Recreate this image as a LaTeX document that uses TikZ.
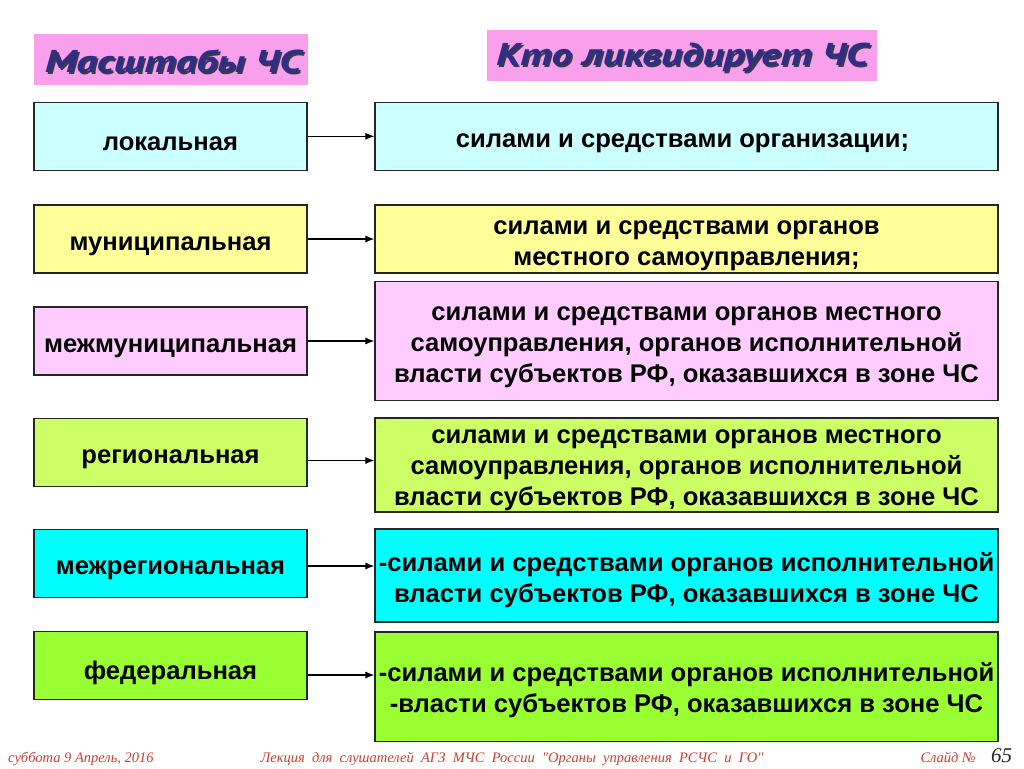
\documentclass[tikz,border=0pt]{standalone}
\usepackage{fontspec}
\setmainfont{Liberation Sans}
\newfontfamily\titlefam[FakeStretch=1.3]{PT Sans}
\newfontfamily\footfam{Liberation Serif}
\usetikzlibrary{arrows.meta}
\definecolor{cA}{HTML}{CCFFFF}
\definecolor{cB}{HTML}{FFFF99}
\definecolor{cC}{HTML}{FFCCFF}
\definecolor{cD}{HTML}{CCFF66}
\definecolor{cE}{HTML}{00FFFF}
\definecolor{cF}{HTML}{99FF33}
\definecolor{tpink}{HTML}{F9A0EC}
\definecolor{navy}{HTML}{2E2E86}
\definecolor{shade}{HTML}{3A3A4A}
\definecolor{footred}{HTML}{C8412E}
\newcommand\boxfnt{\fontsize{25.6}{31}\selectfont\bfseries}
\newcommand\ttlfnt{\fontsize{31.5}{36}\selectfont\titlefam\bfseries\itshape}
\newcommand\footfnt{\fontsize{14.5}{18}\selectfont\footfam\itshape}
\tikzset{
  box/.style={draw=black!85, line width=1.2pt, inner sep=0pt},
  lbox/.style={box, minimum width=273pt, minimum height=68pt},
  rbox/.style={box, minimum width=623pt},
  btxt/.style={inner sep=0pt, align=center, font=\boxfnt, text=black},
  arr/.style={-{Latex[length=9pt,width=7pt]}, line width=1.1pt},
  ttlbox/.style={fill=tpink, inner sep=0pt, minimum height=51pt},
  ttltxt/.style={font=\ttlfnt, text=navy, inner sep=0pt},
  ttlshadow/.style={font=\ttlfnt, text=shade, inner sep=0pt},
  foot/.style={font=\footfnt, text=footred, inner sep=0pt}
}
\begin{document}
\begin{tikzpicture}[x=1pt,y=-1pt]
\useasboundingbox[fill=white] (0,0) rectangle (1024,768);
% titles
\node[ttlbox, minimum width=274pt] (T1) at (171,59.5) {};
\node[ttlshadow] (T1s) at ([xshift=3.8pt,yshift=-3.8pt]T1.center) {Масштабы ЧС};
\node[ttltxt] (T1t) at ([xshift=2pt,yshift=-2pt]T1.center) {Масштабы ЧС};
\node[ttlbox, minimum width=390pt] (T2) at (682,55.5) {};
\node[ttlshadow] (T2s) at ([xshift=1.8pt,yshift=-3.8pt]T2.center) {Кто ликвидирует ЧС};
\node[ttltxt] (T2t) at ([yshift=-2pt]T2.center) {Кто ликвидирует ЧС};
% left boxes
\node[lbox, fill=cA] (L1) at (170.5,136.3) {};
\node[lbox, fill=cB] (L2) at (170.5,239) {};
\node[lbox, fill=cC] (L3) at (170.5,341) {};
\node[lbox, fill=cD] (L4) at (170.5,452.5) {};
\node[lbox, fill=cE] (L5) at (170.5,563.5) {};
\node[lbox, fill=cF] (L6) at (170.5,665.5) {};
\node[btxt] (L1t) at ([yshift=-7pt]L1.center) {локальная};
\node[btxt] (L2t) at ([yshift=-7pt]L2.center) {муниципальная};
\node[btxt] (L3t) at ([yshift=-7pt]L3.center) {межмуниципальная};
\node[btxt] (L4t) at ([yshift=-7pt]L4.center) {региональная};
\node[btxt] (L5t) at ([yshift=-7pt]L5.center) {межрегиональная};
\node[btxt] (L6t) at ([yshift=-7pt]L6.center) {федеральная};
% right boxes
\node[rbox, fill=cA, minimum height=68pt] (R1) at (686.5,136.3) {};
\node[rbox, fill=cB, minimum height=68pt] (R2) at (686.5,239) {};
\node[rbox, fill=cC, minimum height=119.5pt] (R3) at (686.5,341) {};
\node[rbox, fill=cD, minimum height=94pt] (R4) at (686.5,465) {};
\node[rbox, fill=cE, minimum height=93pt] (R5) at (686.5,575.5) {};
\node[rbox, fill=cF, minimum height=109.5pt] (R6) at (686.5,686.75) {};
\node[btxt] (R1t) at ([xshift=-4pt,yshift=-7pt]R1.center) {силами и средствами организации;};
\node[btxt] (R2t) at ([yshift=-7pt]R2.center) {силами и средствами органов\\местного самоуправления;};
\node[btxt] (R3t) at ([yshift=-6pt]R3.center) {силами и средствами органов местного\\самоуправления, органов исполнительной\\власти субъектов РФ, оказавшихся в зоне ЧС};
\node[btxt] (R4t) at ([yshift=-5.5pt]R4.center) {силами и средствами органов местного\\самоуправления, органов исполнительной\\власти субъектов РФ, оказавшихся в зоне ЧС};
\node[btxt] (R5t) at ([yshift=-5pt]R5.center) {-силами и средствами органов исполнительной\\власти субъектов РФ, оказавшихся в зоне ЧС};
\node[btxt] (R6t) at ([yshift=-3.5pt]R6.center) {-силами и средствами органов исполнительной\\-власти субъектов РФ, оказавшихся в зоне ЧС};
% arrows
\draw[arr] (L1.east) -- (L1.east -| R1.west);
\draw[arr] (L2.east) -- (L2.east -| R2.west);
\draw[arr] (L3.east) -- (L3.east -| R3.west);
\draw[arr] ([yshift=-8pt]L4.east) -- ([yshift=-8pt]L4.east -| R4.west);
\draw[arr] ([yshift=-2.5pt]L5.east) -- ([yshift=-2.5pt]L5.east -| R5.west);
\draw[arr] ([yshift=-9.5pt]L6.east) -- ([yshift=-9.5pt]L6.east -| R6.west);
% footer
\node[foot, anchor=base west] (F1) at (8,762) {суббота 9 Апрель, 2016};
\node[foot, anchor=base] (F2) at (512,762) {Лекция\ \ для\ \ слушателей\ \ АГЗ\ \ МЧС\ \ России\ \ "Органы\ \ управления\ \ РСЧС\ \ и\ \ ГО"};
\node[foot, anchor=base east] (F3) at (976,762) {Слайд №};
\node[font=\fontsize{21}{24}\selectfont\footfam\itshape, text=black!85, inner sep=0pt, anchor=base west] (F4) at (991,762) {65};
\end{tikzpicture}
\end{document}
